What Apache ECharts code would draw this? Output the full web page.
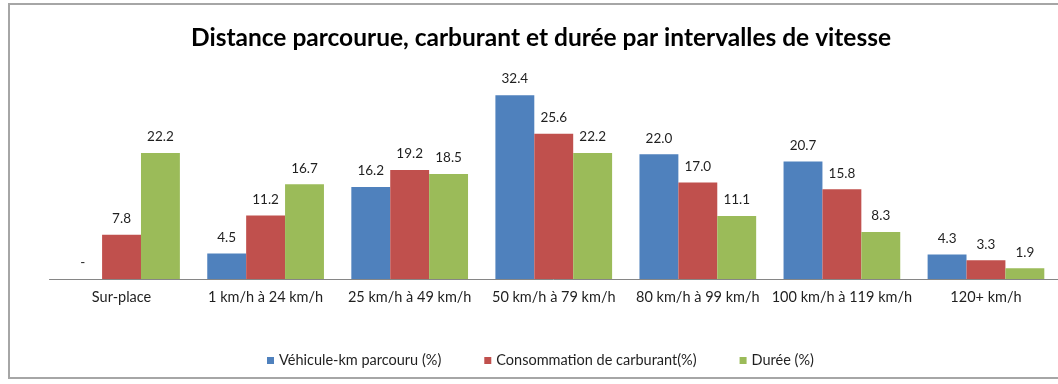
<!DOCTYPE html>
<html>
<head>
<meta charset="utf-8">
<script src="https://cdn.jsdelivr.net/npm/echarts@6/dist/echarts.min.js"></script>
<style>
  html, body { margin: 0; padding: 0; background: #fff; }
  #chart { width: 1058px; height: 384px; }
</style>
</head>
<body>
<div id="chart"></div>
<script>
// Speed bands
const categories = ['Sur-place', '1 km/h à 24 km/h', '25 km/h à 49 km/h', '50 km/h à 79 km/h',
  '80 km/h à 99 km/h', '100 km/h à 119 km/h', '120+ km/h'];
// Shares per speed band (%)
const vehiculeKm = [0, 4.5, 16.2, 32.4, 22.0, 20.7, 4.3];
const consommation = [7.8, 11.2, 19.2, 25.6, 17.0, 15.8, 3.3];
const duree = [22.2, 16.7, 18.5, 22.2, 11.1, 8.3, 1.9];
const seriesNames = ['Véhicule-km parcouru (%)', 'Consommation de carburant(%)', 'Durée (%)'];
const colors = ['#4F81BD', '#C0504D', '#9BBB59'];

const FONT = 'Lato, "Open Sans", sans-serif';

function makeSeries(name, data, color) {
  return {
    name: name,
    type: 'bar',
    data: data,
    barGap: '0%',
    barCategoryGap: '19%',
    itemStyle: { color: color },
    label: {
      show: true,
      position: 'top',
      distance: 9,
      color: '#1f1f1f',
      fontFamily: FONT,
      fontSize: 13.5,
      formatter: p => (p.value === 0 ? '-' : p.value.toFixed(1))
    }
  };
}

const chart = echarts.init(document.getElementById('chart'));
chart.setOption({
  animation: false,
  backgroundColor: '#fff',
  color: colors,
  title: {
    text: 'Distance parcourue, carburant et durée par intervalles de vitesse',
    left: 536,
    textAlign: 'center',
    top: 21,
    textStyle: { fontFamily: FONT, fontWeight: 'bold', fontSize: 24.5, color: '#000' }
  },
  graphic: [{
    type: 'rect',
    shape: { x: 9, y: 4, width: 1060, height: 374 },
    style: { fill: 'none', stroke: '#a6a6a6', lineWidth: 2 },
    silent: true,
    z: -1
  }],
  legend: {
    data: seriesNames,
    left: 262,
    top: 348,
    itemWidth: 7,
    itemHeight: 7,
    itemGap: 43,
    icon: 'rect',
    textStyle: { fontFamily: FONT, fontSize: 14.5, color: '#1f1f1f' }
  },
  grid: { left: 49.5, top: 52, width: 1015, height: 227, containLabel: false },
  xAxis: {
    type: 'category',
    data: categories,
    axisLine: { lineStyle: { color: '#868686', width: 1 } },
    axisTick: { show: false },
    axisLabel: { color: '#1f1f1f', fontFamily: FONT, fontSize: 14.5, margin: 11, interval: 0 }
  },
  yAxis: {
    type: 'value',
    min: 0,
    max: 40,
    show: false,
    splitLine: { show: false }
  },
  series: [
    makeSeries(seriesNames[0], vehiculeKm, colors[0]),
    makeSeries(seriesNames[1], consommation, colors[1]),
    makeSeries(seriesNames[2], duree, colors[2])
  ]
});
</script>
</body>
</html>
